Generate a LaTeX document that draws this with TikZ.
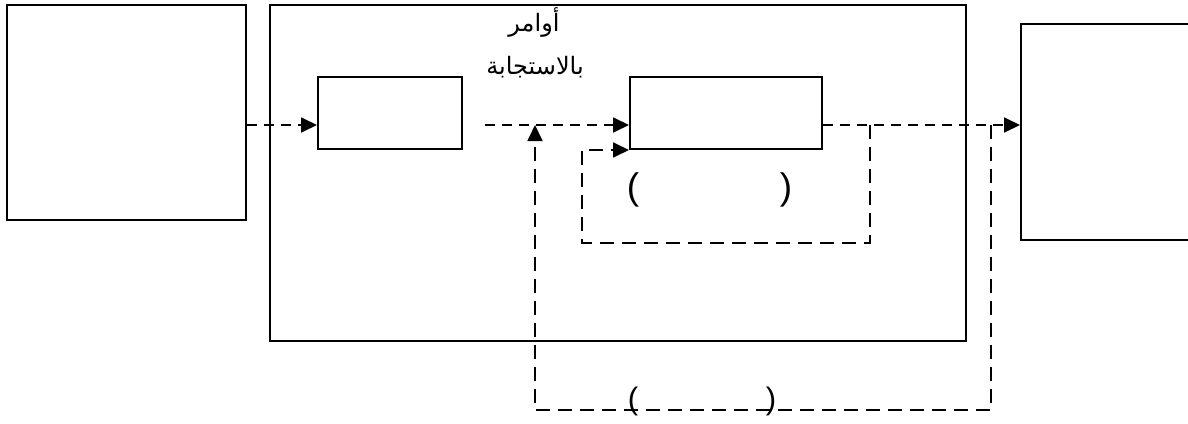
\documentclass[tikz,border=0pt]{standalone}
\usepackage{fontspec}
\setmainfont{Liberation Sans}
\newfontfamily\arabicfont[Script=Arabic]{DejaVu Sans}
\TeXXeTstate=1
\usetikzlibrary{arrows.meta}

\begin{document}
\begin{tikzpicture}[x=1pt,y=-1pt,
  box/.style={draw,line width=2pt,inner sep=0pt},
  flow/.style={line width=1.8pt,dash pattern=on 10pt off 7pt,-{Triangle[length=16pt,width=15pt]}},
  fback/.style={line width=1.8pt,dash pattern=on 14pt off 8pt},
  lbl/.style={inner sep=0pt,font=\fontsize{24}{28}\selectfont},
  paren/.style={inner sep=0pt,font=\fontsize{37}{40}\selectfont}]
\useasboundingbox (0,0) rectangle (1188,423);
            % Boxes
\node[box,minimum width=239pt,minimum height=215pt] (src)  at (126.5,112.5) {};
\node[box,minimum width=696pt,minimum height=336pt] (ctrl) at (618,173) {};
\node[box,minimum width=144pt,minimum height=72pt]  (box1) at (390,113) {};
\node[box,minimum width=192pt,minimum height=72pt]  (box2) at (726,113) {};
\node[box,minimum width=200pt,minimum height=216pt] (out)  at (1121,132) {};
%Labels
\node[lbl] (cmd)  at (534,22) {\arabicfont\beginR أوامر\endR};
\node[lbl] (resp) at (535,67) {\arabicfont\beginR بالاستجابة\endR};
\node[paren] (p1) at (633,190) {(};
\node[paren] (p2) at (786,190) {)};
\node[paren,font=\fontsize{31}{34}\selectfont] (p3) at (633,401) {(};
\node[paren,font=\fontsize{31}{34}\selectfont] (p4) at (771,401) {)};
%Points
\coordinate (gap)   at (485,125);
\coordinate (in1)   at (870,125);
\coordinate (inbl)  at (582,243);
\coordinate (out1)  at (991,125);
\coordinate (outbl) at (535,410);
%Flow
\draw[flow] (src.east |- gap) -- (box1.west |- gap);
\draw[flow] (gap) -- (gap -| box2.west);
\draw[flow] (box2.east |- gap) -- (gap -| out.west);
%Feedback
\draw[fback,-{Triangle[length=16pt,width=15pt]}] (in1) |- (inbl) |- (box2.south west);
\draw[fback,-{Triangle[length=16pt,width=15pt]}] (out1) |- (outbl) -- (outbl |- gap);

\end{tikzpicture}
\end{document}
